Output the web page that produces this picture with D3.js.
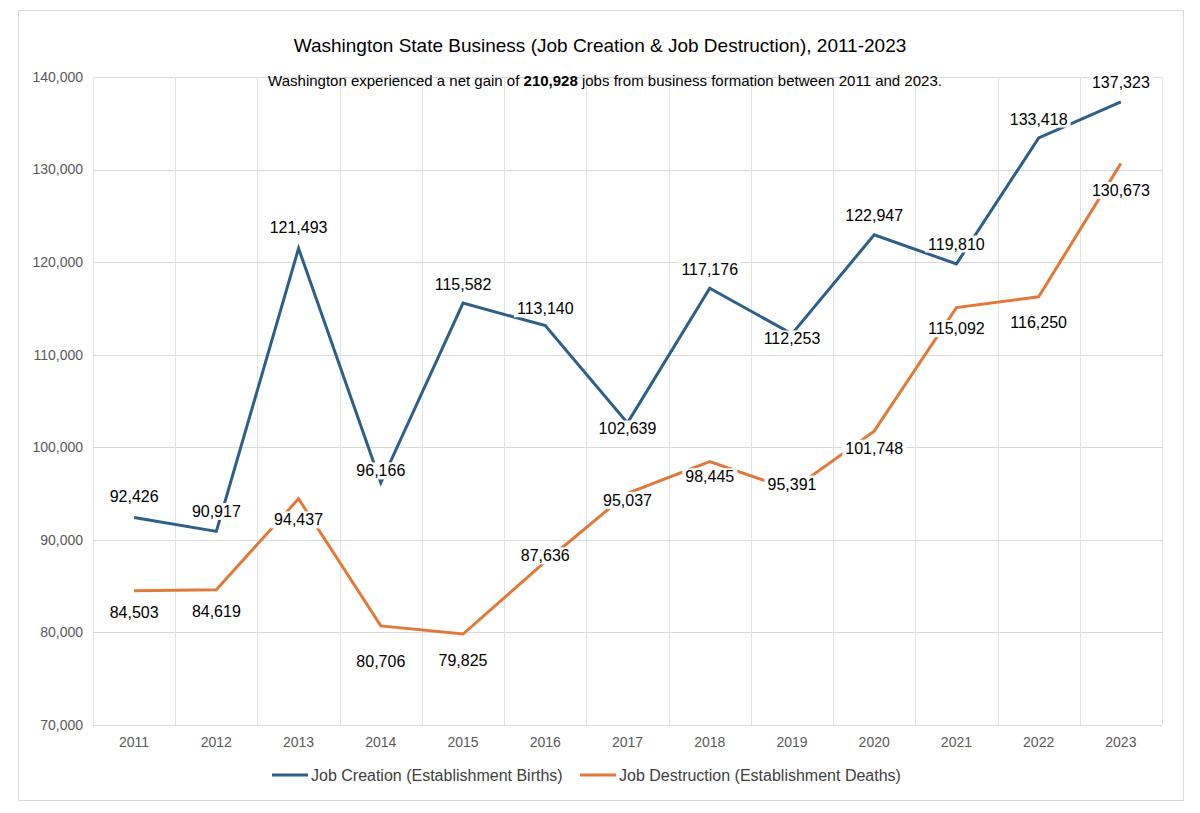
<!DOCTYPE html>
<html>
<head>
<meta charset="utf-8">
<script src="https://cdn.jsdelivr.net/npm/d3@7"></script>
<style>
  body { margin: 0; background: #fff; }
  svg { font-family: "Liberation Sans", Arial, sans-serif; }
</style>
</head>
<body>
<svg id="chart" width="1200" height="813"></svg>
<script>
// Data
const years = ['2011','2012','2013','2014','2015','2016','2017','2018','2019','2020','2021','2022','2023'];
const creation = [92426, 90917, 121493, 96166, 115582, 113140, 102639, 117176, 112253, 122947, 119810, 133418, 137323];
const destruction = [84503, 84619, 94437, 80706, 79825, 87636, 95037, 98445, 95391, 101748, 115092, 116250, 130673];
const yTicks = [70000, 80000, 90000, 100000, 110000, 120000, 130000, 140000];
// label vertical offsets (px) from the point, per year
const creationLabelDy = [-21, -20, -21, -12, -19, -17, 6, -19, 5, -19, -20, -19, -19];
const destructionLabelDy = [22, 22, 21, 35, 26, -6, 7, 15, -6, 17, 21, 26, 27];

const svg = d3.select('#chart');
const plot = { left: 93, right: 1162, top: 77, bottom: 725 };

svg.append('rect').attr('x', 18.5).attr('y', 10.5).attr('width', 1165).attr('height', 790)
  .attr('fill', '#fff').attr('stroke', '#d9d9d9');

const x = d3.scaleBand().domain(years).range([plot.left, plot.right]);
const y = d3.scaleLinear().domain([70000, 140000]).range([plot.bottom, plot.top]);
const fmt = d3.format(',');

// Grid
svg.append('g').selectAll('line').data(yTicks).join('line')
  .attr('x1', plot.left).attr('x2', plot.right)
  .attr('y1', d => Math.round(y(d)) + 0.5).attr('y2', d => Math.round(y(d)) + 0.5)
  .attr('stroke', '#d9d9d9');
svg.append('g').selectAll('line').data(years.concat(['end'])).join('line')
  .attr('x1', (d, i) => Math.round(plot.left + i * x.bandwidth()) + 0.5)
  .attr('x2', (d, i) => Math.round(plot.left + i * x.bandwidth()) + 0.5)
  .attr('y1', plot.top).attr('y2', plot.bottom)
  .attr('stroke', '#e3e3e3');

// Axis labels
svg.append('g').selectAll('text').data(yTicks).join('text')
  .attr('x', 83).attr('y', d => y(d)).attr('dy', '0.35em')
  .attr('text-anchor', 'end').attr('font-size', 14).attr('fill', '#595959')
  .text(d => fmt(d));
svg.append('g').selectAll('text').data(years).join('text')
  .attr('x', d => x(d) + x.bandwidth() / 2).attr('y', 747)
  .attr('text-anchor', 'middle').attr('font-size', 14).attr('fill', '#595959')
  .text(d => d);

// Lines
const cx = d => x(d) + x.bandwidth() / 2;
const line = d3.line().x(d => cx(d[0])).y(d => y(d[1]));
const series = [
  { vals: creation, color: '#2f5f86', dy: creationLabelDy, name: 'Job Creation (Establishment Births)' },
  { vals: destruction, color: '#e07a3c', dy: destructionLabelDy, name: 'Job Destruction (Establishment Deaths)' }
];
series.forEach(s => {
  svg.append('path').datum(years.map((yr, i) => [yr, s.vals[i]]))
    .attr('d', line).attr('fill', 'none').attr('stroke', s.color)
    .attr('stroke-width', 3).attr('stroke-linejoin', 'miter');
});

// Data labels with white boxes
series.forEach(s => {
  years.forEach((yr, i) => {
    const g = svg.append('g').attr('transform', `translate(${cx(yr)},${y(s.vals[i]) + s.dy[i]})`);
    const t = g.append('text').attr('text-anchor', 'middle').attr('dy', '0.35em')
      .attr('font-size', 16).attr('fill', '#000').text(fmt(s.vals[i]));
    const b = t.node().getBBox();
    g.insert('rect', 'text').attr('x', b.x - 3).attr('y', b.y).attr('width', b.width + 6)
      .attr('height', b.height).attr('fill', '#fff');
  });
});

// Title
svg.append('text').attr('x', 600).attr('y', 52).attr('text-anchor', 'middle')
  .attr('font-size', 19).attr('fill', '#000')
  .text('Washington State Business (Job Creation & Job Destruction), 2011-2023');
const sub = svg.append('text').attr('x', 605).attr('y', 86).attr('text-anchor', 'middle')
  .attr('font-size', 15).attr('fill', '#000');
sub.append('tspan').text('Washington experienced a net gain of ');
sub.append('tspan').attr('font-weight', 'bold').text('210,928');
sub.append('tspan').text(' jobs from business formation between 2011 and 2023.');

// Legend
const legX = [272, 580];
series.forEach((s, i) => {
  const g = svg.append('g').attr('transform', `translate(${legX[i]},775)`);
  g.append('line').attr('x1', 0).attr('x2', 36).attr('stroke', s.color).attr('stroke-width', 3);
  g.append('text').attr('x', 39).attr('dy', '0.35em').attr('font-size', 16).attr('fill', '#404040').text(s.name);
});
</script>
</body>
</html>
